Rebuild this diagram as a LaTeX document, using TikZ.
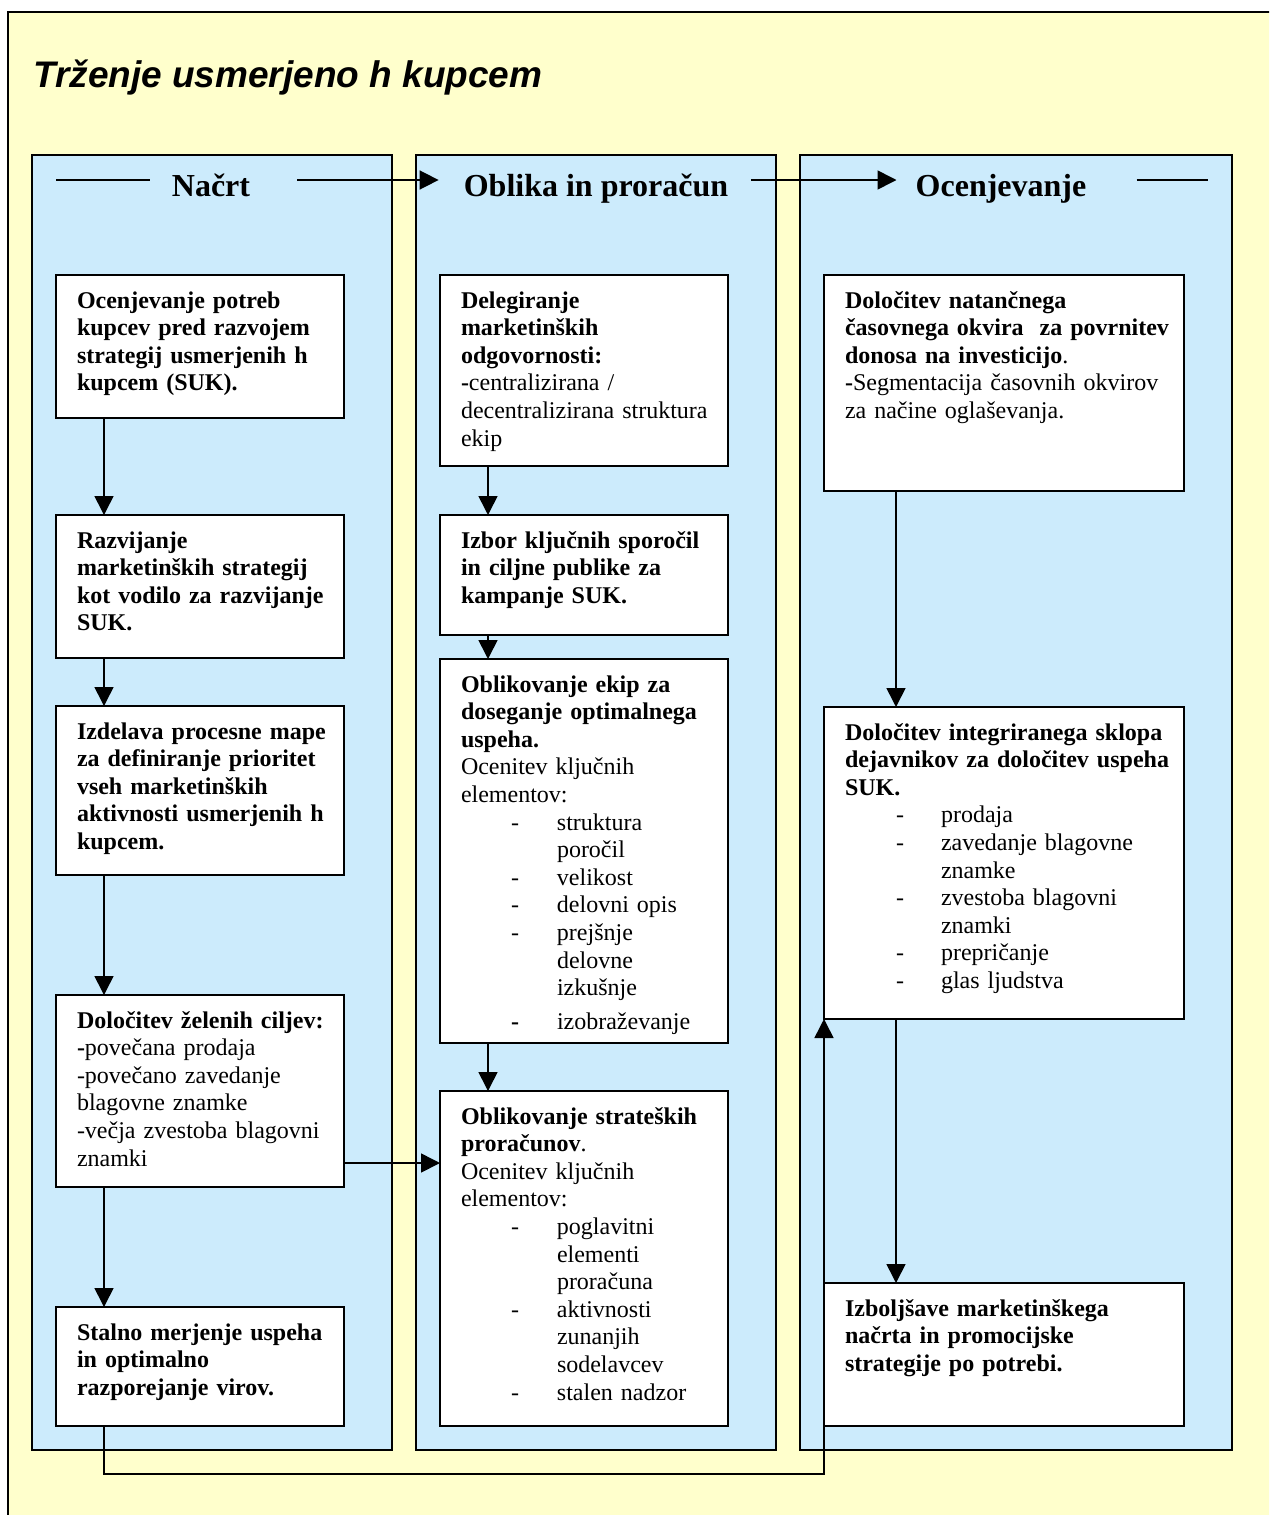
\documentclass[tikz,border=0pt]{standalone}
\usepackage{fontspec}
\setmainfont{Liberation Serif}
\newfontfamily\titlefont{Liberation Sans}
\usetikzlibrary{arrows.meta}
\definecolor{bgyellow}{RGB}{255,255,204}
\definecolor{colblue}{RGB}{204,235,252}
\setlength{\parindent}{0pt}
\begin{document}
\begin{tikzpicture}[x=1pt,y=-1pt,
  colbox/.style={draw=black,line width=2pt,fill=colblue,anchor=north west,outer sep=0pt,inner sep=0pt},
  box/.style={draw=black,line width=1.6pt,fill=white,anchor=north west,outer sep=0pt,inner sep=0pt},
  txt/.style={anchor=north west,inner sep=0pt,outer sep=0pt,align=left,font=\fontsize{24}{27.6}\selectfont},
  hdr/.style={font=\fontsize{32}{38}\selectfont\bfseries,inner sep=0pt,text height=36pt,text depth=4pt},
  conn/.style={line width=1.6pt,-{Triangle[length=19pt,width=19pt]}},
  plainline/.style={line width=1.6pt}]

\useasboundingbox (0,0) rectangle (1269,1515);
\clip (0,0) rectangle (1269,1515);
\fill[white] (0,0) rectangle (1269,1515);
\node[draw=black,line width=2pt,fill=bgyellow,anchor=north west,minimum width=1300pt,minimum height=1540pt,inner sep=0pt,outer sep=0pt] (frame) at (8,12) {};

\node[anchor=base west,inner sep=0pt,font=\titlefont\bfseries\itshape\fontsize{37}{44}\selectfont] (title) at (33,87) {Trženje usmerjeno h kupcem};

% columns
\node[colbox,minimum width=360pt,minimum height=1295pt] (col1) at (32,155) {};
\node[colbox,minimum width=360pt,minimum height=1295pt] (col2) at (416,155) {};
\node[colbox,minimum width=432pt,minimum height=1295pt] (col3) at (800,155) {};

% headers
\node[hdr] (h1) at (211,180) {Načrt};
\node[hdr] (h2) at (596,180) {Oblika in proračun};
\node[hdr] (h3) at (1001,180) {Ocenjevanje};
\coordinate (hl) at (56,180);
\coordinate (hr) at (1208,180);
\draw[plainline] (hl) -- ([xshift=-22pt]h1.west);
\draw[conn] ([xshift=47pt]h1.east) -- ([xshift=-25pt]h2.west);
\draw[conn] ([xshift=23pt]h2.east) -- ([xshift=-19pt]h3.west);
\draw[plainline] ([xshift=50pt]h3.east) -- (hr);

% column 1
\node[box,minimum width=288pt,minimum height=143pt] (b1) at (56,275) {};
\node[txt,text width=263pt] (tb1) at ([xshift=21pt]b1.north west) {\rule{0pt}{33pt}\textbf{Ocenjevanje potreb\\kupcev pred razvojem\\strategij usmerjenih h\\kupcem (SUK).}};
\node[box,minimum width=288pt,minimum height=143pt] (b2) at (56,515) {};
\node[txt,text width=263pt] (tb2) at ([xshift=21pt]b2.north west) {\rule{0pt}{33pt}\textbf{Razvijanje\\marketinških strategij\\kot vodilo za razvijanje\\SUK.}};
\node[box,minimum width=288pt,minimum height=169pt] (b3) at (56,706) {};
\node[txt,text width=263pt] (tb3) at ([xshift=21pt]b3.north west) {\rule{0pt}{33pt}\textbf{Izdelava procesne mape\\za definiranje prioritet\\vseh marketinških\\aktivnosti usmerjenih h\\kupcem.}};
\node[box,minimum width=288pt,minimum height=192pt] (b4) at (56,995) {};
\node[txt,text width=263pt] (tb4) at ([xshift=21pt]b4.north west) {\rule{0pt}{33pt}\textbf{Določitev želenih ciljev:}\\\textbf{-}povečana prodaja\\-povečano zavedanje\\blagovne znamke\\-večja zvestoba blagovni\\znamki};
\node[box,minimum width=288pt,minimum height=119pt] (b5) at (56,1307) {};
\node[txt,text width=263pt] (tb5) at ([xshift=21pt]b5.north west) {\rule{0pt}{33pt}\textbf{Stalno merjenje uspeha\\in optimalno\\razporejanje virov.}};

% column 2
\node[box,minimum width=288pt,minimum height=191pt] (c1) at (440,275) {};
\node[txt,text width=263pt] (tc1) at ([xshift=21pt]c1.north west) {\rule{0pt}{33pt}\textbf{Delegiranje\\marketinških\\odgovornosti:}\\\textbf{-}centralizirana /\\decentralizirana struktura\\ekip};
\node[box,minimum width=288pt,minimum height=120pt] (c2) at (440,515) {};
\node[txt,text width=263pt] (tc2) at ([xshift=21pt]c2.north west) {\rule{0pt}{33pt}\textbf{Izbor ključnih sporočil\\in ciljne publike za\\kampanje SUK.}};
\node[box,minimum width=288pt,minimum height=384pt] (c3) at (440,659) {};
\node[txt,text width=263pt] (tc3) at ([xshift=21pt]c3.north west) {\rule{0pt}{33pt}\textbf{Oblikovanje ekip za\\doseganje optimalnega\\uspeha.}\\Ocenitev ključnih\\elementov:\\
\hspace*{50pt}\makebox[46pt][l]{-}struktura\\
\hspace*{96pt}poročil\\
\hspace*{50pt}\makebox[46pt][l]{-}velikost\\
\hspace*{50pt}\makebox[46pt][l]{-}delovni opis\\
\hspace*{50pt}\makebox[46pt][l]{-}prejšnje\\
\hspace*{96pt}delovne\\
\hspace*{96pt}izkušnje\\[6pt]
\hspace*{50pt}\makebox[46pt][l]{\textbf{-}}izobraževanje};
\node[box,minimum width=288pt,minimum height=335pt] (c4) at (440,1091) {};
\node[txt,text width=263pt] (tc4) at ([xshift=21pt]c4.north west) {\rule{0pt}{33pt}\textbf{Oblikovanje strateških\\proračunov}.\\Ocenitev ključnih\\elementov:\\
\hspace*{50pt}\makebox[46pt][l]{-}poglavitni\\
\hspace*{96pt}elementi\\
\hspace*{96pt}proračuna\\
\hspace*{50pt}\makebox[46pt][l]{-}aktivnosti\\
\hspace*{96pt}zunanjih\\
\hspace*{96pt}sodelavcev\\
\hspace*{50pt}\makebox[46pt][l]{-}stalen nadzor};

% column 3
\node[box,minimum width=360pt,minimum height=216pt] (d1) at (824,275) {};
\node[txt,text width=335pt] (td1) at ([xshift=21pt]d1.north west) {\rule{0pt}{33pt}\textbf{Določitev natančnega\\časovnega okvira\ \ za povrnitev\\donosa na investicijo}.\\\textbf{-}Segmentacija časovnih okvirov\\za načine oglaševanja.};
\node[box,minimum width=360pt,minimum height=312pt] (d2) at (824,707) {};
\node[txt,text width=335pt] (td2) at ([xshift=21pt]d2.north west) {\rule{0pt}{33pt}\textbf{Določitev integriranega sklopa\\dejavnikov za določitev uspeha\\SUK.}\\
\hspace*{51pt}\makebox[45pt][l]{-}prodaja\\
\hspace*{51pt}\makebox[45pt][l]{-}zavedanje blagovne\\
\hspace*{96pt}znamke\\
\hspace*{51pt}\makebox[45pt][l]{-}zvestoba blagovni\\
\hspace*{96pt}znamki\\
\hspace*{51pt}\makebox[45pt][l]{-}prepričanje\\
\hspace*{51pt}\makebox[45pt][l]{-}glas ljudstva};
\node[box,minimum width=360pt,minimum height=143pt] (d3) at (824,1283) {};
\node[txt,text width=335pt] (td3) at ([xshift=21pt]d3.north west) {\rule{0pt}{33pt}\textbf{Izboljšave marketinškega\\načrta in promocijske\\strategije po potrebi.}};

% connectors column 1
\draw[conn] ([xshift=48pt]b1.south west) -- ([xshift=48pt]b2.north west);
\draw[conn] ([xshift=48pt]b2.south west) -- ([xshift=48pt]b3.north west);
\draw[conn] ([xshift=48pt]b3.south west) -- ([xshift=48pt]b4.north west);
\draw[conn] ([xshift=48pt]b4.south west) -- ([xshift=48pt]b5.north west);
% column 2
\draw[conn] ([xshift=48pt]c1.south west) -- ([xshift=48pt]c2.north west);
\draw[conn] ([xshift=48pt]c2.south west) -- ([xshift=48pt]c3.north west);
\draw[conn] ([xshift=48pt]c3.south west) -- ([xshift=48pt]c4.north west);
% column 3
\draw[conn] ([xshift=72pt]d1.south west) -- ([xshift=72pt]d2.north west);
\draw[conn] ([xshift=72pt]d2.south west) -- ([xshift=72pt]d3.north west);
% cross connectors
\draw[conn] ([yshift=24pt]b4.south east) -- ([yshift=24pt]b4.south east -| c4.west);
\coordinate (fb) at (104,1474);
\draw[conn] ([xshift=48pt]b5.south west) -- (fb) -| (d2.south west);
\end{tikzpicture}
\end{document}
